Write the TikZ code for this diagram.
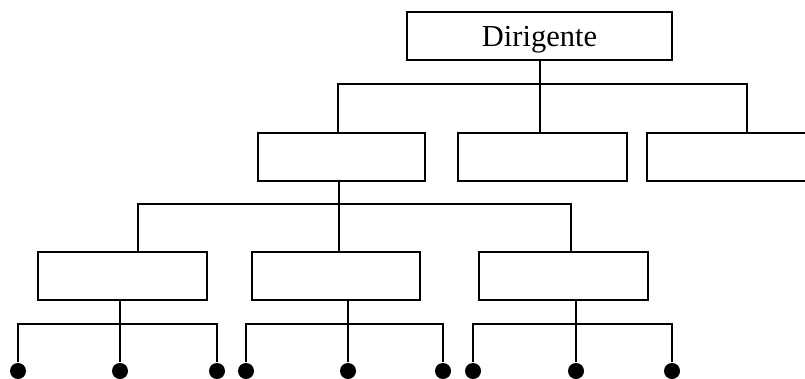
\documentclass[tikz,border=0pt]{standalone}
\usepackage{fontspec}
\setmainfont{Liberation Serif}
\begin{document}
\begin{tikzpicture}[x=1pt,y=-1pt,
  line width=2pt,
  box/.style={draw, rectangle, inner sep=0pt, minimum height=48pt},
  leaf/.style={circle, fill=black, draw=none, inner sep=0pt, minimum size=16pt}]
\useasboundingbox (0,0) rectangle (805,378);
\clip (0,0) rectangle (805,378);
% head of the organisation
\node[box, minimum width=265pt, text depth=0pt, font=\fontsize{30.5}{32}\selectfont] (top) at (539.5,36) {Dirigente};
% second level
\node[box, minimum width=167pt] (a) at (341.5,156.5) {};
\node[box, minimum width=169pt] (b) at (542.5,156.5) {};
\node[box, minimum width=200pt] (c) at (747,156.5) {};
\coordinate (t1) at (540,84);
\draw (top.south -| t1) -- (t1);
\draw (a.north -| 338,0) -- (338,84) -- (747,84) -- (c.north);
\draw (b.north -| t1) -- (t1);
% third level
\node[box, minimum width=169pt] (p) at (122.5,276) {};
\node[box, minimum width=168pt] (q) at (336,276) {};
\node[box, minimum width=169pt] (r) at (563.5,276) {};
\coordinate (t2) at (339,204);
\draw (a.south -| t2) -- (t2);
\draw (p.north -| 138,0) -- (138,204) -- (571,204) -- (r.north -| 571,0);
\draw (q.north -| t2) -- (t2);
% leaves
\foreach \bx/\l/\m/\rr in {p/18/120/217, q/246/348/443, r/473/576/672}{
  \node[leaf] (\bx1) at (\l,371) {};
  \node[leaf] (\bx2) at (\m,371) {};
  \node[leaf] (\bx3) at (\rr,371) {};
  \draw (\bx.south -| \bx2) -- (\bx2);
  \draw (\bx1) -- (\l,324) -- (\rr,324) -- (\bx3);
}
\end{tikzpicture}
\end{document}
